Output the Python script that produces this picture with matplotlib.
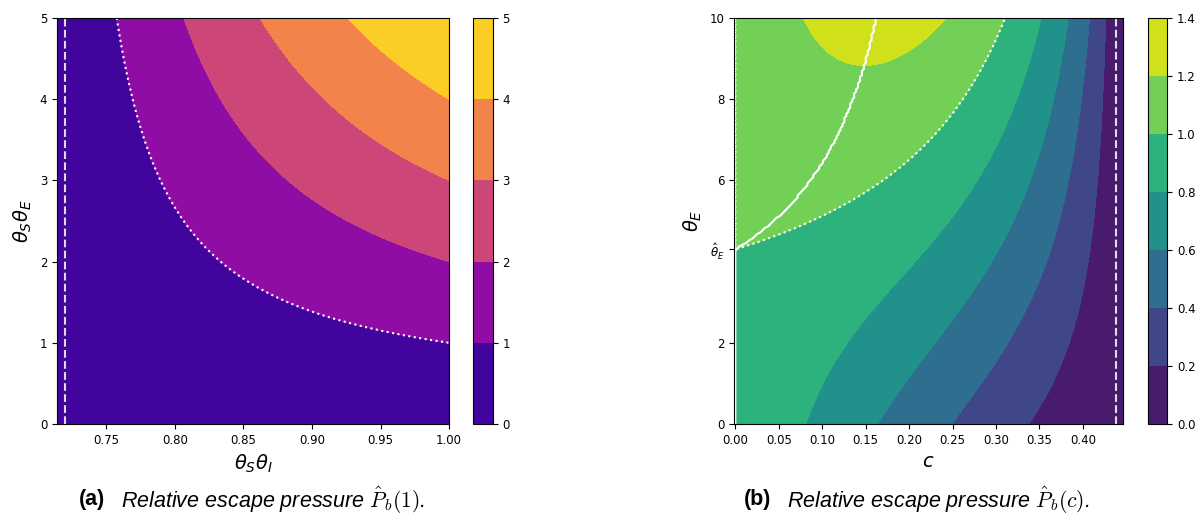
import numpy as np
import matplotlib.pyplot as plt

plt.rcParams['font.family'] = ['DejaVu Sans']
plt.rcParams['xtick.labelsize'] = 8.5
plt.rcParams['ytick.labelsize'] = 8.5

# (a) relative escape pressure P_b(1) over theta_S*theta_I (x) and theta_S*theta_E (y)
x_range = (0.714, 1.0)
y_range = (0.0, 5.0)
p_offset, p_scale = 3.5, 2.5      # P = y * (p_offset - p_scale / x)
x_dashed = 0.72
levels_a = [0, 1, 2, 3, 4, 5]
xticks_a = [0.75, 0.80, 0.85, 0.90, 0.95, 1.00]
yticks_a = [0, 1, 2, 3, 4, 5]

# (b) relative escape pressure P_b(c) over c (x) and theta_E (y)
c_range = (0.0, 0.446)
e_range = (0.0, 10.0)
c_max = 0.438        # dashed line, pressure drops to zero
theta_hat = 4.3      # theta_E above which c > 0 helps
alpha, beta = 1.09, 0.72
levels_b = [0.0, 0.2, 0.4, 0.6, 0.8, 1.0, 1.2, 1.4]
xticks_b = [0.00, 0.05, 0.10, 0.15, 0.20, 0.25, 0.30, 0.35, 0.40]
yticks_b = [0, 2, theta_hat, 6, 8, 10]
ytick_labels_b = ['0', '2', r'$\hat{\theta}_E$', '6', '8', '10']

fig = plt.figure(figsize=(12, 5.25), dpi=100)
ax1 = fig.add_axes([0.0475, 0.1924, 0.3267, 0.7733])
cax1 = fig.add_axes([0.394, 0.1924, 0.0167, 0.7733])
ax2 = fig.add_axes([0.6117, 0.1924, 0.324, 0.7733])
cax2 = fig.add_axes([0.9567, 0.1924, 0.016, 0.7733])

# panel a
x = np.linspace(*x_range, 200)
y = np.linspace(*y_range, 200)
X, Y = np.meshgrid(x, y)
P1 = np.clip(Y * (p_offset - p_scale / X), 0, None)
cs1 = ax1.contourf(X, Y, P1, levels=levels_a, cmap='plasma')
ax1.contour(X, Y, P1, levels=[1], colors='white', linestyles=':', linewidths=1.5)
ax1.axvline(x_dashed, color='white', ls='--', lw=1.5, alpha=0.85)
ax1.set_xticks(xticks_a)
ax1.set_yticks(yticks_a)
ax1.set_xlabel(r'$\theta_S\theta_I$', fontsize=14)
ax1.set_ylabel(r'$\theta_S\theta_E$', fontsize=14)
fig.colorbar(cs1, cax=cax1, ticks=levels_a)

# panel b
c = np.linspace(*c_range, 200)
e = np.linspace(*e_range, 200)
C, E = np.meshgrid(c, e)
u = np.clip(1 - C / c_max, 0, None)
k = alpha / (c_max * theta_hat)
P2 = u ** alpha + E * k * C * u ** beta
cs2 = ax2.contourf(C, E, P2, levels=levels_b, cmap='viridis')
ax2.contour(C, E, P2, levels=[1.0], colors='white', linestyles=':', linewidths=1.5)
# along c = 0 the pressure is exactly 1, so the level-1 line follows the edge above theta_hat
ax2.plot([c_range[0], c_range[0]], [theta_hat, e_range[1]], color='white', ls=':', lw=1.5)
c_opt = c[np.argmax(P2, axis=1)]
ax2.plot(c_opt, e, color='white', lw=1.5)
ax2.axvline(c_max, color='white', ls='--', lw=1.5, alpha=0.85)
ax2.set_xlim(c_range[0] - 0.0015, c_range[1])
ax2.set_ylim(*e_range)
ax2.set_xticks(xticks_b)
ax2.set_yticks(yticks_b)
ax2.set_yticklabels(ytick_labels_b)
ax2.set_xlabel(r'$c$', fontsize=14)
ax2.set_ylabel(r'$\theta_E$', fontsize=14)
fig.colorbar(cs2, cax=cax2, ticks=levels_b)

# captions
cap_y = 1 - 500 / 525
for x0, tag, body in [(105, '(a)', r'Relative escape pressure $\hat{P}_b(1)$.'),
                      (771, '(b)', r'Relative escape pressure $\hat{P}_b(c)$.')]:
    fig.text(x0 / 1200, cap_y, tag, ha='right', va='center', fontsize=15.5,
             weight='bold', family='Liberation Sans')
    fig.text((x0 + 16) / 1200, cap_y, body, ha='left', va='center', fontsize=15.5,
             style='italic', family='Liberation Sans', math_fontfamily='cm')

fig.savefig('out.png', dpi=100)
